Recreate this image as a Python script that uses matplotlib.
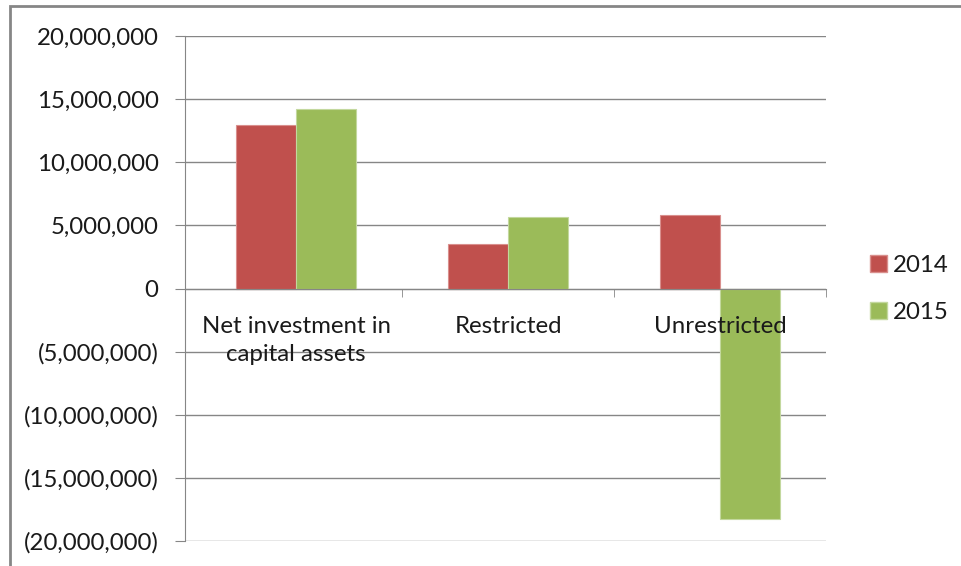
import matplotlib
matplotlib.use("Agg")
import matplotlib.pyplot as plt
from matplotlib.patches import Rectangle, Patch
from matplotlib.ticker import FuncFormatter, FixedLocator
import numpy as np

categories = ["Net investment in\ncapital assets", "Restricted", "Unrestricted"]
series_names = ["2014", "2015"]
values_2014 = [12960000, 3530000, 5830000]
values_2015 = [14230000, 5640000, -18260000]
colors = ["#C0504D", "#9BBB59"]
edge_colors = ["#D98F8D", "#C3D89E"]

plt.rcParams['font.family'] = ['Lato', 'DejaVu Sans']

fs = 17.3
txt = "#1a1a1a"
fig = plt.figure(figsize=(9.61, 5.66), dpi=100)
ax = fig.add_axes([185/961, 1-541/566, (826-185)/961, (541-36)/566])

x = np.arange(len(categories))
w = 0.283
ax.bar(x - w/2, values_2014, w, color=colors[0], edgecolor=edge_colors[0], linewidth=0.8, label=series_names[0], zorder=2)
ax.bar(x + w/2, values_2015, w, color=colors[1], edgecolor=edge_colors[1], linewidth=0.8, label=series_names[1], zorder=2)

ax.set_xlim(-0.525, 2.499)
ax.set_ylim(-20000000, 20000000)
ax.set_yticks(np.arange(-20000000, 20000001, 5000000))

def fmt(v, pos):
    if v < 0:
        return "({:,.0f})".format(-v)
    return "{:,.0f}".format(v)
ax.yaxis.set_major_formatter(FuncFormatter(fmt))

gray = "#868686"
ax.grid(axis='y', color=gray, linewidth=1.0)
ax.yaxis.set_zorder(1)
ax.xaxis.set_zorder(5)

for s in ['top', 'right']:
    ax.spines[s].set_visible(False)
ax.spines['bottom'].set_position(('data', 0))
ax.spines['bottom'].set_color(gray)
ax.spines['left'].set_color(gray)
ax.spines['bottom'].set_zorder(4)

ax.set_xticks(x)
ax.set_xticklabels(categories, fontsize=fs, color=txt, linespacing=1.42, va='top')
ax.tick_params(axis='x', which='major', length=0, pad=20)
ax.xaxis.set_minor_locator(FixedLocator([-0.525, 0.5, 1.5, 2.499]))
ax.tick_params(axis='x', which='minor', length=6, direction='out', color=gray)
ax.tick_params(axis='y', length=7, direction='out', color=gray, labelsize=fs, labelcolor=txt, pad=12)

handles = [Patch(facecolor=colors[0], edgecolor=edge_colors[0]), Patch(facecolor=colors[1], edgecolor=edge_colors[1])]
fig.legend(handles, series_names, loc='center left', bbox_to_anchor=(853/961, 1-289/566),
           frameon=False, fontsize=fs, handlelength=0.7, handleheight=0.7,
           handletextpad=0.25, labelspacing=1.1, labelcolor=txt, borderpad=0.2)

border = Rectangle((10/961, -0.05), 1.0, 1-6/566+0.05, transform=fig.transFigure,
                   fill=False, edgecolor=gray, linewidth=2.0)
fig.patches.append(border)

fig.savefig("out.png", dpi=100)
